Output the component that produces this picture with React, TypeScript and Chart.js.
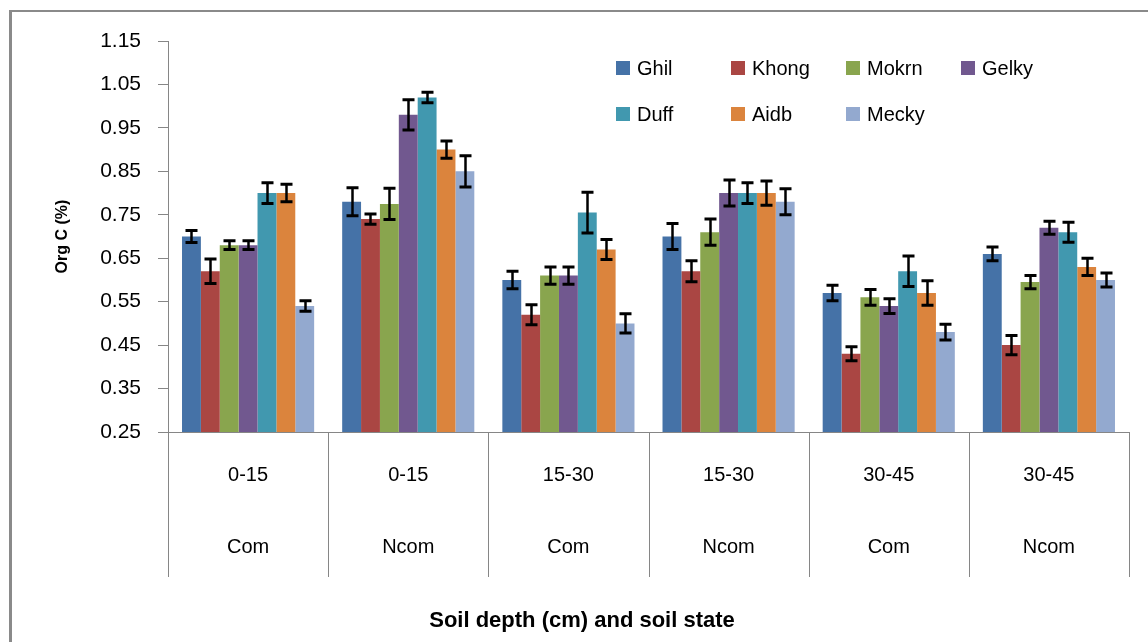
import React, { useEffect, useRef } from "react";
import { Chart, registerables } from "chart.js";

Chart.register(...registerables);

// ---------- data ----------
const depthLabels = ["0-15", "0-15", "15-30", "15-30", "30-45", "30-45"];
const stateLabels = ["Com", "Ncom", "Com", "Ncom", "Com", "Ncom"];

const seriesNames = ["Ghil", "Khong", "Mokrn", "Gelky", "Duff", "Aidb", "Mecky"];
const seriesColors = ["#4572A7", "#AA4643", "#89A54E", "#71588F", "#4198AF", "#DB843D", "#93A9CF"];

const ghil = [0.70, 0.78, 0.60, 0.70, 0.57, 0.66];
const khong = [0.62, 0.74, 0.52, 0.62, 0.43, 0.45];
const mokrn = [0.68, 0.775, 0.61, 0.71, 0.56, 0.595];
const gelky = [0.68, 0.98, 0.61, 0.80, 0.54, 0.72];
const duff = [0.80, 1.02, 0.755, 0.80, 0.62, 0.71];
const aidb = [0.80, 0.90, 0.67, 0.80, 0.57, 0.63];
const mecky = [0.54, 0.85, 0.50, 0.78, 0.48, 0.60];

const ghilErr = [0.014, 0.032, 0.02, 0.03, 0.018, 0.016];
const khongErr = [0.028, 0.012, 0.023, 0.024, 0.016, 0.022];
const mokrnErr = [0.01, 0.036, 0.02, 0.03, 0.018, 0.015];
const gelkyErr = [0.01, 0.035, 0.02, 0.03, 0.017, 0.015];
const duffErr = [0.024, 0.012, 0.047, 0.024, 0.035, 0.023];
const aidbErr = [0.02, 0.02, 0.023, 0.028, 0.028, 0.02];
const meckyErr = [0.012, 0.036, 0.022, 0.03, 0.018, 0.016];

const yTickValues = [0.25, 0.35, 0.45, 0.55, 0.65, 0.75, 0.85, 0.95, 1.05, 1.15];

const yTitle = "Org C (%)";
const xTitle = "Soil depth (cm) and soil state";

// ---------- styling ----------
const FONT = '"Liberation Sans", Arial, Helvetica, sans-serif';
const AXIS_COLOR = "#868686";
const SEP_LEN = 145;
const LEGEND_LEFT = 616;
const LEGEND_ROW1 = 68;
const LEGEND_COL_W = 115;
const LEGEND_ROW_H = 46;
const LEGEND_COLS = 4;
const LEGEND_BOX = 14;

const seriesValues = [ghil, khong, mokrn, gelky, duff, aidb, mecky];
const seriesErrors = [ghilErr, khongErr, mokrnErr, gelkyErr, duffErr, aidbErr, meckyErr];

const decorPlugin = {
  id: "decor",
  afterDatasetsDraw(chart: any) {
    const ctx = chart.ctx;
    const yScale = chart.scales.y;
    ctx.save();
    ctx.strokeStyle = "#000";
    chart.data.datasets.forEach((ds: any, d: number) => {
      const meta = chart.getDatasetMeta(d);
      const errs = seriesErrors[d];
      meta.data.forEach((bar: any, i: number) => {
        const v = ds.data[i];
        const e = errs[i];
        const x = Math.round(bar.x) + 0.5;
        const yTop = yScale.getPixelForValue(v + e);
        const yBot = yScale.getPixelForValue(v - e);
        ctx.lineWidth = 2.5;
        ctx.beginPath();
        ctx.moveTo(x, yTop);
        ctx.lineTo(x, yBot);
        ctx.stroke();
        ctx.lineWidth = 3;
        ctx.beginPath();
        ctx.moveTo(x - 6, yTop);
        ctx.lineTo(x + 6, yTop);
        ctx.moveTo(x - 6, yBot);
        ctx.lineTo(x + 6, yBot);
        ctx.stroke();
      });
    });
    ctx.restore();
  },
  afterDraw(chart: any) {
    const ctx = chart.ctx;
    const xScale = chart.scales.x;
    const area = chart.chartArea;
    ctx.save();
    // category separators below the axis
    ctx.strokeStyle = AXIS_COLOR;
    ctx.lineWidth = 1;
    const n = chart.data.labels.length;
    const half = (xScale.getPixelForValue(1) - xScale.getPixelForValue(0)) / 2;
    for (let i = 0; i <= n; i++) {
      const px = Math.round(xScale.getPixelForValue(i) - half) + 0.5;
      ctx.beginPath();
      ctx.moveTo(px, area.bottom);
      ctx.lineTo(px, area.bottom + SEP_LEN);
      ctx.stroke();
    }
    // x-axis title
    ctx.fillStyle = "#000";
    ctx.font = `bold 22px ${FONT}`;
    ctx.textAlign = "center";
    ctx.textBaseline = "middle";
    ctx.fillText(xTitle, chart.width / 2 + 8, xScale.bottom - 21);
    // legend
    ctx.font = `20px ${FONT}`;
    ctx.textAlign = "left";
    chart.data.datasets.forEach((ds: any, d: number) => {
      const col = d % LEGEND_COLS;
      const row = Math.floor(d / LEGEND_COLS);
      const bx = LEGEND_LEFT + col * LEGEND_COL_W;
      const cy = LEGEND_ROW1 + row * LEGEND_ROW_H;
      ctx.fillStyle = ds.backgroundColor;
      ctx.fillRect(bx, cy - LEGEND_BOX / 2, LEGEND_BOX, LEGEND_BOX);
      ctx.fillStyle = "#000";
      ctx.fillText(ds.label, bx + 21, cy + 1);
    });
    ctx.restore();
  },
};

export default function App() {
  const canvasRef = useRef<HTMLCanvasElement | null>(null);

  useEffect(() => {
    if (!canvasRef.current) return;
    const labels = depthLabels.map((d, i) => [d, stateLabels[i]]);
    const chart = new Chart(canvasRef.current, {
      type: "bar",
      data: {
        labels,
        datasets: seriesNames.map((name, i) => ({
          label: name,
          data: seriesValues[i],
          backgroundColor: seriesColors[i],
          borderWidth: 0,
          categoryPercentage: 0.825,
          barPercentage: 1.0,
        })),
      },
      options: {
        animation: false,
        responsive: true,
        maintainAspectRatio: false,
        layout: { padding: { top: 41, right: 19, left: 0, bottom: 0 } },
        plugins: {
          legend: { display: false },
          tooltip: { enabled: false },
          title: { display: false },
        },
        scales: {
          x: {
            offset: true,
            grid: { display: false, drawTicks: false },
            border: { display: true, color: AXIS_COLOR, width: 1 },
            ticks: {
              autoSkip: false,
              maxRotation: 0,
              minRotation: 0,
              padding: 7,
              color: "#000",
              font: { family: FONT, size: 20, lineHeight: 3.6 },
            },
            afterFit(scale: any) {
              scale.height = 210;
            },
          },
          y: {
            min: 0.25,
            max: 1.15,
            afterBuildTicks(scale: any) {
              scale.ticks = yTickValues.map((value) => ({ value }));
            },
            grid: {
              display: true,
              drawOnChartArea: false,
              drawTicks: true,
              tickLength: 10,
              color: AXIS_COLOR,
            },
            border: { display: true, color: AXIS_COLOR, width: 1 },
            ticks: {
              padding: 17,
              color: "#000",
              font: { family: FONT, size: 21 },
              callback: (v: any) => Number(v).toFixed(2),
            },
            title: {
              display: true,
              text: yTitle,
              color: "#000",
              font: { family: FONT, size: 16, weight: "bold", lineHeight: 1.2 },
              padding: { top: 53, bottom: 0 },
            },
            afterFit(scale: any) {
              scale.width = 168;
            },
          },
        },
      },
      plugins: [decorPlugin],
    } as any);
    return () => chart.destroy();
  }, []);

  return (
    <div
      style={{
        position: "fixed",
        left: 0,
        top: 0,
        width: 1148,
        height: 642,
        overflow: "hidden",
        background: "#fff",
      }}
    >
      <div
        style={{
          position: "absolute",
          left: 9,
          top: 10,
          width: 1300,
          height: 800,
          borderLeft: "3px solid #8a8a8a",
          borderTop: "2px solid #8a8a8a",
        }}
      />
      <canvas
        ref={canvasRef}
        style={{ position: "absolute", left: 0, top: 0, width: 1148, height: 642 }}
      />
    </div>
  );
}
